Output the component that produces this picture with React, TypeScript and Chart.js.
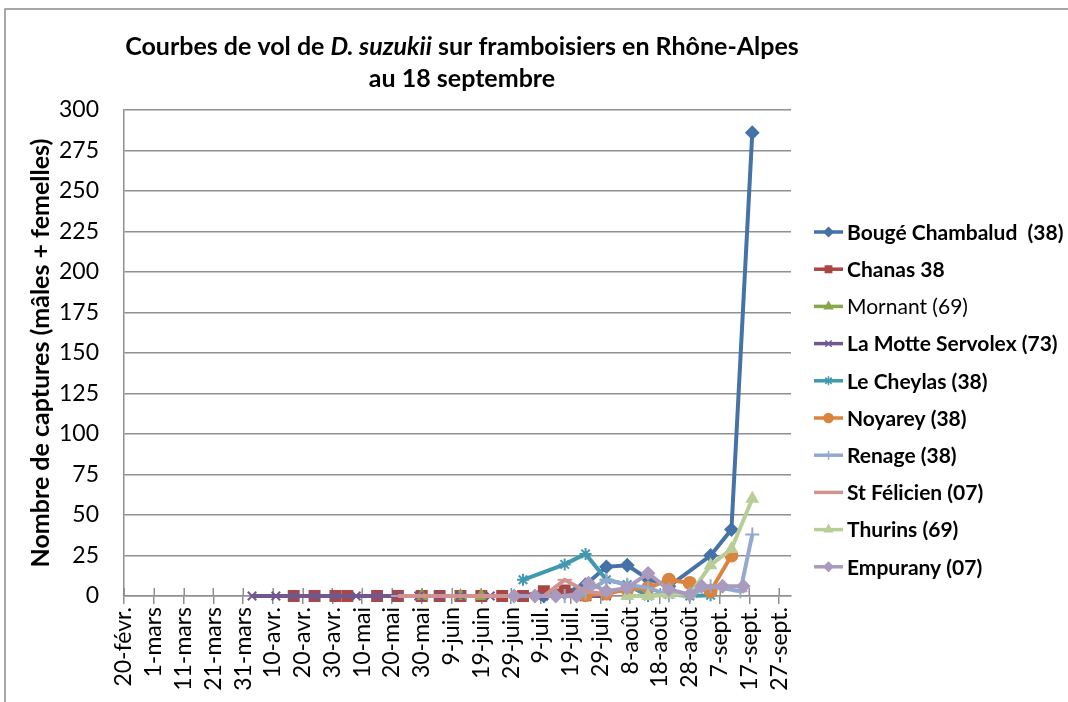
import React, { useEffect, useRef } from 'react';
import { Chart, registerables } from 'chart.js';
import { drawPoint } from 'chart.js/helpers';

Chart.register(...registerables);

// ---------- DATA ----------
const axisStart = '2012-02-20';
const axisEnd = '2012-10-01';
const tickLabels = ['20-févr.', '1-mars', '11-mars', '21-mars', '31-mars', '10-avr.', '20-avr.', '30-avr.', '10-mai', '20-mai', '30-mai', '9-juin', '19-juin', '29-juin', '9-juil.', '19-juil.', '29-juil.', '8-août', '18-août', '28-août', '7-sept.', '17-sept.', '27-sept.'];
const tickStepDays = 10;
const yMax = 300;
const yStep = 25;

const titleLine1 = ['Courbes de vol de ', 'D. suzukii', ' sur framboisiers en Rhône-Alpes'];
const titleLine2 = 'au 18 septembre';
const yAxisTitle = 'Nombre de captures (mâles + femelles)';

const seriesNames = ['Bougé Chambalud  (38)', 'Chanas 38', 'Mornant (69)', 'La Motte Servolex (73)', 'Le Cheylas (38)', 'Noyarey (38)', 'Renage (38)', 'St Félicien (07)', 'Thurins (69)', 'Empurany (07)'];

const bougeDates = ['2012-07-10', '2012-07-17', '2012-07-24', '2012-07-31', '2012-08-07', '2012-08-14', '2012-08-21', '2012-09-04', '2012-09-11', '2012-09-18'];
const bougeValues = [0, 2, 7, 18, 19, 10.5, 6, 25, 41, 286];

const chanasDates = ['2012-04-17', '2012-04-24', '2012-05-01', '2012-05-05', '2012-05-15', '2012-05-22', '2012-05-30', '2012-06-05', '2012-06-12', '2012-06-19', '2012-06-26', '2012-07-03', '2012-07-10', '2012-07-17', '2012-07-24'];
const chanasValues = [0, 0, 0, 0, 0, 0, 0, 0, 0, 0, 0, 0, 3, 3.5, 0.5];

const mornantDates = ['2012-05-30', '2012-06-12', '2012-06-19'];
const mornantValues = [0, 0, 0];

const motteDates = ['2012-04-03', '2012-04-11', '2012-04-17', '2012-04-24', '2012-05-01', '2012-05-08', '2012-05-15', '2012-05-22', '2012-05-29', '2012-06-05', '2012-06-12', '2012-06-22', '2012-07-02', '2012-07-10', '2012-07-22', '2012-07-31'];
const motteValues = [0, 0, 0, 0, 0, 0, 0, 0, 0, 0, 0, 0, 0, 0, 0, 0];

const cheylasDates = ['2012-07-03', '2012-07-17', '2012-07-24', '2012-07-31', '2012-08-07', '2012-08-14', '2012-08-21', '2012-08-28', '2012-09-04'];
const cheylasValues = [10, 19.5, 26, 10, 7, 0, 1, 0, 0.5];

const noyareyDates = ['2012-07-24', '2012-07-31', '2012-08-07', '2012-08-14', '2012-08-21', '2012-08-28', '2012-09-04', '2012-09-11'];
const noyareyValues = [0.5, 1.5, 4, 5, 10, 8, 3, 25];

const renageDates = ['2012-07-17', '2012-07-24', '2012-07-31', '2012-08-07', '2012-08-14', '2012-08-21', '2012-08-28', '2012-09-04', '2012-09-14', '2012-09-18'];
const renageValues = [0, 2, 10, 7, 5, 0.5, 1, 6, 3, 38];

const felicienDates = ['2012-05-22', '2012-05-29', '2012-06-05', '2012-06-12', '2012-06-19', '2012-06-26', '2012-07-03', '2012-07-10', '2012-07-17', '2012-07-24', '2012-07-31'];
const felicienValues = [0, 0, 0, 0, 0, 0, 0, 0, 10, 3, 1];

const thurinsDates = ['2012-08-07', '2012-08-14', '2012-08-21', '2012-08-28', '2012-09-04', '2012-09-11', '2012-09-18'];
const thurinsValues = [0, 0, 1, 1, 19, 29, 60];

const empuranyDates = ['2012-06-30', '2012-07-07', '2012-07-14', '2012-07-21', '2012-07-25', '2012-07-31', '2012-08-07', '2012-08-14', '2012-08-21', '2012-08-28', '2012-09-01', '2012-09-08', '2012-09-15'];
const empuranyValues = [0, 0, 0, 0, 8, 3, 5, 14, 4, 1, 6, 6, 6];

// ---------- STYLE ----------
const seriesDates = [bougeDates, chanasDates, mornantDates, motteDates, cheylasDates, noyareyDates, renageDates, felicienDates, thurinsDates, empuranyDates];
const seriesValues = [bougeValues, chanasValues, mornantValues, motteValues, cheylasValues, noyareyValues, renageValues, felicienValues, thurinsValues, empuranyValues];
const colors = ['#4572A7', '#AA4643', '#89A54E', '#71588F', '#4198AF', '#DB843D', '#93A9CF', '#D19392', '#B9CD96', '#A99BBD'];
const pointStyles = ['rectRot', 'rect', 'triangle', 'crossRot', 'star', 'circle', 'cross', 'line', 'triangle', 'rectRot'];
const pointRadii = [6, 7, 6, 6, 6, 6, 7, 7, 6, 6];
const normalWeightLegend = ['Mornant (69)'];

const FONT = 'Lato, "Noto Sans", sans-serif';
const GRID = '#8f8f8f';

const dayOf = (iso: string) => {
  const [y, m, d] = iso.split('-').map(Number);
  const [y0, m0, d0] = axisStart.split('-').map(Number);
  return Math.round((Date.UTC(y, m - 1, d) - Date.UTC(y0, m0 - 1, d0)) / 86400000);
};

const framePlugin = {
  id: 'frame',
  beforeDraw(chart: any) {
    const ctx = chart.ctx;
    ctx.save();
    ctx.strokeStyle = '#8c8c8c';
    ctx.lineWidth = 1.5;
    ctx.strokeRect(5, 9, 1300, 1000);
    ctx.restore();
  },
  beforeDatasetsDraw(chart: any) {
    const ctx = chart.ctx;
    const xs = chart.scales.x;
    const bottom = chart.chartArea.bottom;
    ctx.save();
    ctx.strokeStyle = GRID;
    ctx.lineWidth = 1.5;
    xs.ticks.forEach((t: any) => {
      const px = Math.round(xs.getPixelForValue(t.value)) + 0.25;
      ctx.beginPath();
      ctx.moveTo(px, bottom - 8);
      ctx.lineTo(px, bottom);
      ctx.stroke();
    });
    ctx.restore();
  },
  afterDraw(chart: any) {
    const ctx = chart.ctx;
    ctx.save();
    ctx.fillStyle = '#000';
    ctx.textBaseline = 'middle';
    // title
    const fonts = [`bold 25px ${FONT}`, `italic bold 25px ${FONT}`, `bold 25px ${FONT}`];
    let total = 0;
    const widths = titleLine1.map((s, i) => {
      ctx.font = fonts[i];
      const w = ctx.measureText(s).width;
      total += w;
      return w;
    });
    const cx = 462;
    let x = cx - total / 2;
    titleLine1.forEach((s, i) => {
      ctx.font = fonts[i];
      ctx.textAlign = 'left';
      ctx.fillText(s, x, 47);
      x += widths[i];
    });
    ctx.font = `bold 25px ${FONT}`;
    ctx.textAlign = 'center';
    ctx.fillText(titleLine2, cx, 79);

    // legend
    const top = 232;
    const gap = 37.2;
    chart.data.datasets.forEach((ds: any, i: number) => {
      const y = top + i * gap;
      ctx.strokeStyle = ds.borderColor;
      ctx.fillStyle = ds.borderColor;
      ctx.lineWidth = 3.5;
      ctx.beginPath();
      ctx.moveTo(814, y);
      ctx.lineTo(843, y);
      ctx.stroke();
      ctx.lineWidth = 1.5;
      drawPoint(ctx, { pointStyle: ds.pointStyle, radius: 4.5, rotation: 0, borderWidth: 1.5 } as any, 828.5, y);
      ctx.fillStyle = '#000';
      ctx.textAlign = 'left';
      const bold = normalWeightLegend.indexOf(ds.label) < 0;
      ctx.font = `${bold ? 'bold ' : ''}21px ${FONT}`;
      ctx.fillText(ds.label, 847, y + 1);
    });
    ctx.restore();
  },
};

export default function App() {
  const ref = useRef<HTMLCanvasElement | null>(null);

  useEffect(() => {
    if (!ref.current) return;
    const datasets = seriesNames.map((name, i) => ({
      label: name,
      data: seriesDates[i].map((d, j) => ({ x: dayOf(d), y: seriesValues[i][j] })),
      borderColor: colors[i],
      backgroundColor: colors[i],
      pointBackgroundColor: colors[i],
      pointBorderColor: colors[i],
      pointStyle: pointStyles[i],
      pointRadius: pointRadii[i],
      pointBorderWidth: 2,
      borderWidth: 4,
      tension: 0,
      clip: false,
      order: seriesNames.length - i,
    }));
    const tickDays = tickLabels.map((_, i) => i * tickStepDays);

    const chart = new Chart(ref.current, {
      type: 'line',
      data: { datasets },
      plugins: [framePlugin],
      options: {
        animation: false,
        responsive: false,
        layout: { padding: { left: 0, top: 110, right: 277, bottom: 0 } },
        plugins: { legend: { display: false }, title: { display: false }, tooltip: { enabled: false } },
        scales: {
          x: {
            type: 'linear',
            min: 0,
            max: dayOf(axisEnd),
            afterBuildTicks: (scale: any) => {
              scale.ticks = tickDays.map((v) => ({ value: v }));
            },
            afterFit: (scale: any) => {
              scale.height = 106;
            },
            ticks: {
              autoSkip: false,
              minRotation: 90,
              maxRotation: 90,
              padding: 3,
              color: '#000',
              font: { family: FONT, size: 23 },
              callback: (_v: any, index: number) => tickLabels[index],
            },
            grid: { drawOnChartArea: false, drawTicks: true, tickLength: 8, color: GRID, lineWidth: 1.5 },
            border: { display: true, color: GRID, width: 1.5 },
          },
          y: {
            min: 0,
            max: yMax,
            afterFit: (scale: any) => {
              scale.width = 124;
            },
            ticks: {
              stepSize: yStep,
              padding: 25,
              color: '#000',
              font: { family: FONT, size: 23 },
            },
            grid: { color: GRID, lineWidth: 1.5, drawTicks: false },
            border: { display: true, color: GRID, width: 1.5 },
            title: {
              display: true,
              text: yAxisTitle,
              color: '#000',
              font: { family: FONT, size: 25, weight: 'bold' },
              padding: { top: 26, bottom: 0 },
            },
          },
        },
      } as any,
    });
    return () => chart.destroy();
  }, []);

  return (
    <div style={{ position: 'absolute', left: 0, top: 0, width: 1068, height: 702, background: '#fff' }}>
      <canvas ref={ref} width={1068} height={702} style={{ display: 'block' }} />
    </div>
  );
}
